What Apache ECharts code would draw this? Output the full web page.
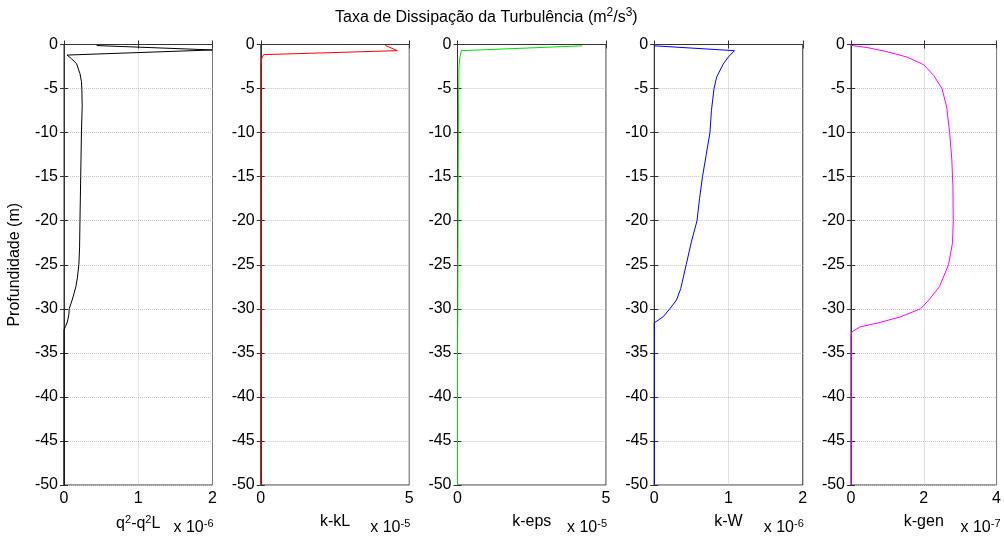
<!DOCTYPE html>
<html><head><meta charset="utf-8">
<script src="https://cdn.jsdelivr.net/npm/echarts@6/dist/echarts.min.js"></script>
<style>html,body{margin:0;padding:0;background:#fff}#c{width:1004px;height:540px}</style>
</head><body><div id="c"></div>
<script>
// Values in display units (see multiplier under each panel); depth in metres
const q2q2L = [[0.44,-0.12],[2.0,-0.62],[0.04,-1.2],[0.10,-1.6],[0.17,-2.2],[0.215,-3.3],[0.235,-4.2],[0.24,-5],[0.245,-7],[0.235,-10],[0.225,-15],[0.215,-20],[0.21,-23],[0.2,-25],[0.18,-26.5],[0.16,-27.5],[0.11,-29],[0.07,-30],[0.065,-30.7],[0.045,-31.5],[0.02,-32],[0,-32.4],[0,-50]];
const kkL = [[4.19,-0.1],[4.6,-0.7],[0.1,-1.15],[0.03,-1.6],[0.01,-2.4],[0.005,-5],[0.003,-15],[0,-30],[0,-50]];
const keps = [[4.2,-0.15],[0.13,-0.7],[0.08,-1.5],[0.05,-2.5],[0.04,-5],[0.03,-10],[0.02,-20],[0.01,-30],[0,-35],[0,-50]];
const kW = [[0.0,-0.15],[1.08,-0.7],[1.0,-1.4],[0.93,-2.2],[0.84,-3.7],[0.805,-5],[0.77,-7.5],[0.75,-10],[0.7,-12.5],[0.65,-15],[0.61,-17.5],[0.576,-20],[0.5,-22.4],[0.43,-25],[0.357,-27.7],[0.3,-29],[0.21,-30],[0.12,-30.9],[0.0,-31.6],[0,-50]];
const kgen = [[0,-0.1],[0.45,-0.35],[0.93,-0.76],[1.55,-1.44],[2.0,-2.3],[2.27,-3.5],[2.5,-5],[2.63,-7.1],[2.71,-10],[2.77,-13],[2.8,-16],[2.81,-20],[2.79,-22.5],[2.68,-25],[2.43,-27.5],[2.14,-29],[1.91,-30],[1.37,-30.9],[0.75,-31.6],[0.25,-32.05],[0.03,-32.6],[0,-33],[0,-50]];

const seriesData = [q2q2L, kkL, keps, kW, kgen];
const xMax = [2, 5, 5, 2, 4];
const xInterval = [1, 5, 5, 1, 2];
const xNames = ['q{sup|2}-q{sup|2}L', 'k-kL', 'k-eps', 'k-W', 'k-gen'];
const multipliers = ['-6', '-5', '-5', '-6', '-7'];
const colors = ['#000000', '#ff0000', '#00e000', '#0000ff', '#ff00ff'];
const yTicks = {min: -50, max: 0, interval: 5};

const FONT = "'Liberation Sans', Arial, sans-serif";
const L0 = 64, STEP = 196.75, GW = 148.5, GT = 44.5, GH = 440.5;
const supStyle = {fontSize: 11, padding: [0, 0, 9, 0], fontFamily: FONT, color: '#000'};

const grids = [], xAxes = [], yAxes = [], series = [], graphics = [];
for (let i = 0; i < 5; i++) {
  grids.push({left: L0 + i*STEP, top: GT, width: GW, height: GH, show: true, borderColor: '#333', borderWidth: 1, backgroundColor: '#fff'});
  const axLine = {show: true, lineStyle: {color: '#333', width: 1}};
  const tick = {show: true, inside: true, length: 4, lineStyle: {color: '#333'}};
  xAxes.push({type: 'value', gridIndex: i, position: 'bottom', min: 0, max: xMax[i], interval: xInterval[i],
    axisLine: axLine, axisTick: tick,
    axisLabel: {fontSize: 16, color: '#000', fontFamily: FONT, margin: 6},
    splitLine: {show: true, lineStyle: {type: 'dotted', color: '#c4c4c4', width: 1}},
    name: xNames[i], nameLocation: 'middle', nameGap: 29,
    nameTextStyle: {fontSize: 16, color: '#000', fontFamily: FONT, rich: {sup: supStyle}}});
  xAxes.push({type: 'value', gridIndex: i, position: 'top', min: 0, max: xMax[i], interval: xInterval[i],
    axisLine: axLine, axisTick: tick, axisLabel: {show: false}, splitLine: {show: false}});
  yAxes.push(Object.assign({type: 'value', gridIndex: i, position: 'left',
    axisLine: axLine, axisTick: tick,
    axisLabel: {fontSize: 16, color: '#000', fontFamily: FONT, margin: 6},
    splitLine: {show: true, lineStyle: {type: 'dotted', color: '#c4c4c4', width: 1}},
    name: i === 0 ? 'Profundidade (m)' : '', nameLocation: 'middle', nameGap: 41,
    nameTextStyle: {fontSize: 16, color: '#000', fontFamily: FONT}}, yTicks));
  yAxes.push(Object.assign({type: 'value', gridIndex: i, position: 'right',
    axisLine: axLine, axisTick: tick, axisLabel: {show: false}, splitLine: {show: false}}, yTicks));
  series.push({type: 'line', xAxisIndex: 2*i, yAxisIndex: 2*i, data: seriesData[i], showSymbol: false, symbol: 'none',
    lineStyle: {color: colors[i], width: 1}, smooth: false, animation: false});
  graphics.push({type: 'text', right: 1004 - (L0 + i*STEP + GW) - 1, top: 518,
    style: {text: 'x 10{sup|' + multipliers[i] + '}', fontSize: 16, fontFamily: FONT, fill: '#000',
      rich: {sup: supStyle}}});
}
graphics.push({type: 'text', left: 335, top: 7,
  style: {text: 'Taxa de Dissipação da Turbulência (m{sup|2}/s{sup|3})', fontSize: 16, fontFamily: FONT, fill: '#000',
    rich: {sup: Object.assign({}, supStyle, {fontSize: 12})}}});

const chart = echarts.init(document.getElementById('c'), null, {renderer: 'canvas'});
chart.setOption({animation: false, backgroundColor: '#fff', grid: grids, xAxis: xAxes, yAxis: yAxes, series: series, graphic: graphics});
</script></body></html>
